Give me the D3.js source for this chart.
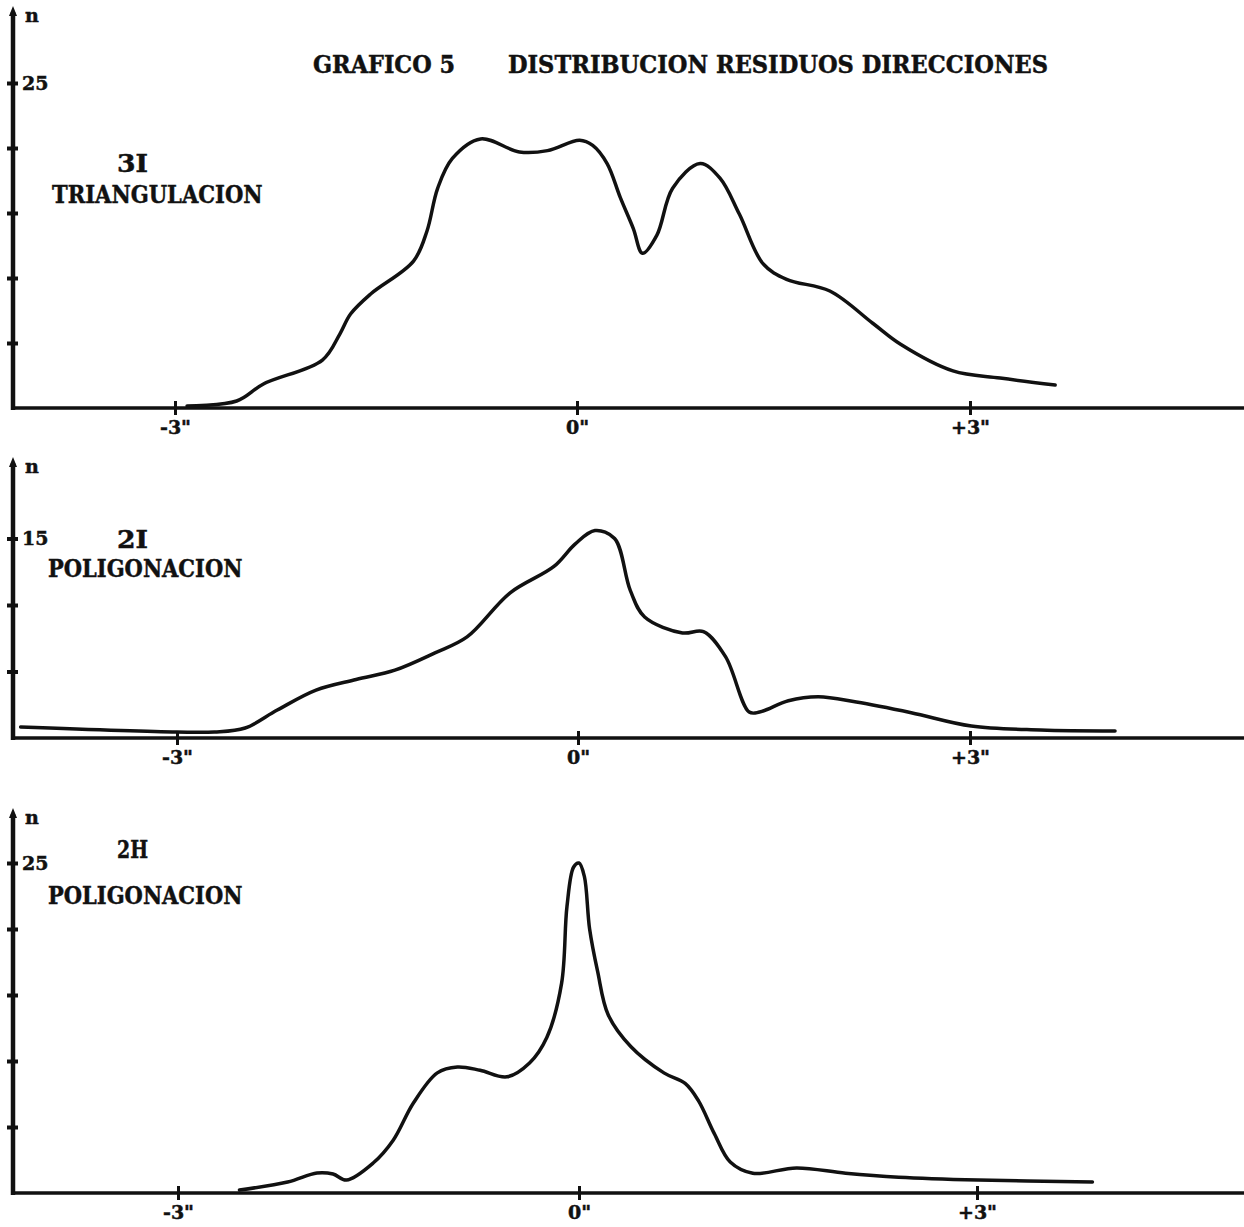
<!DOCTYPE html>
<html lang="es">
<head>
<meta charset="UTF-8">
<title>Grafico 5</title>
<script src="https://cdn.jsdelivr.net/npm/d3@7"></script>
<style>
    body { margin: 0; background: #fff; }
    text { font-family: "DejaVu Serif", "Liberation Serif", serif; font-weight: bold; fill: #111; stroke: #111; stroke-width: 0.5px; }
</style>
</head>
<body>
<script>

    // titulo y etiquetas
    var tituloA = "GRAFICO 5";
    var tituloB = "DISTRIBUCION RESIDUOS DIRECCIONES";
    var seriesNames = ["3I", "2I", "2H"];
    var methods = ["TRIANGULACION", "POLIGONACION", "POLIGONACION"];
    var xTicks = [-3, 0, 3];
    var xTickLabels = ['-3"', '0"', '+3"'];

    // 3I triangulacion: residuo (segundos) -> n
    var res3I = [-2.91, -2.54, -2.34, -1.90, -1.77, -1.69, -1.54, -1.22, -1.12, -1.04, -0.93, -0.72, -0.43, -0.22,
                 0.02, 0.12, 0.23, 0.33, 0.43, 0.50, 0.61, 0.73, 0.94, 1.09, 1.24, 1.42, 1.60, 1.93, 2.26, 2.47,
                 2.87, 3.23, 3.65];
    var n3I = [0.15, 0.54, 1.85, 3.69, 5.69, 7.23, 8.77, 11.3, 13.6, 16.9, 19.2, 20.7, 19.7, 19.8,
               20.6, 20.2, 18.8, 16.2, 13.8, 11.9, 13.3, 16.9, 18.8, 17.7, 14.9, 11.1, 9.9, 9.0, 6.5, 4.9,
               2.85, 2.3, 1.77];

    // 2I poligonacion
    var res2I = [-4.17, -3.0, -2.72, -2.49, -2.25, -1.96, -1.66, -1.37, -1.07, -0.83, -0.51, -0.18, -0.02, 0.13,
                 0.28, 0.40, 0.51, 0.80, 0.96, 1.13, 1.31, 1.39, 1.61, 1.84, 2.13, 2.55, 3.01, 3.54, 4.11];
    var n2I = [0.83, 0.45, 0.45, 0.75, 2.1, 3.6, 4.4, 5.1, 6.4, 7.6, 10.9, 12.9, 14.6, 15.6,
               15.0, 11.1, 9.1, 7.9, 8.0, 6.1, 1.95, 1.95, 2.8, 3.1, 2.7, 1.9, 0.9, 0.6, 0.53];

    // 2H poligonacion
    var res2H = [-2.54, -2.18, -1.96, -1.84, -1.74, -1.54, -1.39, -1.24, -1.06, -0.91, -0.74, -0.54, -0.37, -0.24,
                 -0.13, -0.09, -0.04, 0.0, 0.04, 0.08, 0.14, 0.22, 0.39, 0.64, 0.80, 0.90, 1.02, 1.14, 1.31,
                 1.64, 2.01, 2.41, 3.01, 3.87];
    var n2H = [0.23, 0.83, 1.52, 1.44, 0.98, 2.27, 4.0, 6.8, 9.1, 9.55, 9.3, 8.8, 9.85, 11.8,
               15.9, 21.7, 24.7, 25.0, 24.0, 20.0, 16.8, 13.5, 11.1, 9.1, 8.3, 7.0, 4.5, 2.35, 1.5,
               1.9, 1.5, 1.2, 0.98, 0.83];

    var yTicks1 = [5, 10, 15, 20, 25];
    var yTicks2 = [5, 10, 15];
    var yTicks3 = [5, 10, 15, 20, 25];

    // posicion de cada panel en la hoja
    var width = 1244;
    var height = 1227;
    var axisX = 13;
    var panels = [
        {res: res3I, n: n3I, ticks: yTicks1, base: 408, unit: 13.0, xr: [175, 577, 970], top: 6,   nameY: 172, methY: 203, methX: 52},
        {res: res2I, n: n2I, ticks: yTicks2, base: 738, unit: 13.3, xr: [177, 578, 970], top: 457, nameY: 548, methY: 577, methX: 48},
        {res: res2H, n: n2H, ticks: yTicks3, base: 1193, unit: 13.2, xr: [178, 579, 977], top: 808, nameY: 858, methY: 904, methX: 48}
    ];

    var svg = d3.select("body")
        .append("svg")
        .attr("width", width)
        .attr("height", height);

    function label(sel, txt, x, y, w, size) {
        var t = sel.append("text")
            .attr("x", x)
            .attr("y", y)
            .style("font-size", size + "px")
            .text(txt);
        if (w) t.attr("textLength", w).attr("lengthAdjust", "spacingAndGlyphs");
        return t;
    }

    label(svg, tituloA, 313, 73, 142, 25);
    label(svg, tituloB, 508, 73, 540, 25);

    panels.forEach(function (p, i) {
        var x = d3.scaleLinear().domain([-3, 0, 3]).range(p.xr);
        var y = d3.scaleLinear().domain([0, 25]).range([p.base, p.base - 25 * p.unit]);
        var g = svg.append("g");

        // linea base
        g.append("line")
            .attr("x1", axisX)
            .attr("x2", width)
            .attr("y1", p.base)
            .attr("y2", p.base)
            .attr("stroke", "#111")
            .attr("stroke-width", 3.5);

        // eje x
        var gx = g.append("g")
            .attr("transform", "translate(0," + p.base + ")")
            .call(d3.axisBottom(x)
                .tickValues(xTicks)
                .tickFormat(function (d, k) { return xTickLabels[k]; })
                .tickSize(7)
                .tickPadding(6));
        gx.select(".domain").remove();
        gx.selectAll(".tick line")
            .attr("y1", -7)
            .attr("stroke", "#111")
            .attr("stroke-width", 3);
        gx.selectAll(".tick text")
            .style("font-size", "19px");

        // eje y
        var gy = g.append("g")
            .attr("transform", "translate(" + axisX + ",0)")
            .call(d3.axisLeft(y)
                .tickValues(p.ticks)
                .tickFormat(function (d) { return d === d3.max(p.ticks) ? d : ""; })
                .tickSize(6));
        gy.select(".domain").remove();
        gy.selectAll(".tick line")
            .attr("x1", 5)
            .attr("stroke", "#111")
            .attr("stroke-width", 4);
        gy.selectAll(".tick text")
            .attr("x", 9)
            .attr("text-anchor", "start")
            .style("font-size", "19px");

        g.append("line")
            .attr("x1", axisX)
            .attr("x2", axisX)
            .attr("y1", p.base + 2)
            .attr("y2", p.top + 6)
            .attr("stroke", "#111")
            .attr("stroke-width", 4.5);
        g.append("path")
            .attr("d", "M" + (axisX - 4) + "," + (p.top + 10) + "L" + axisX + "," + p.top + "L" + (axisX + 4) + "," + (p.top + 10) + "Z")
            .attr("fill", "#111");
        label(g, "n", axisX + 12, p.top + 16, 0, 19);

        // nombres
        label(g, seriesNames[i], 117, p.nameY, 31, 25);
        label(g, methods[i], p.methX, p.methY, methods[i].length * 16.2, 25);

        // curva
        var pts = p.res.map(function (r, k) { return [r, p.n[k]]; });
        var line = d3.line()
            .x(function (d) { return x(d[0]); })
            .y(function (d) { return y(d[1]); })
            .curve(d3.curveCatmullRom.alpha(0.5));
        g.append("path")
            .datum(pts)
            .attr("d", line)
            .attr("fill", "none")
            .attr("stroke", "#111")
            .attr("stroke-width", 3.5)
            .attr("stroke-linejoin", "round")
            .attr("stroke-linecap", "round");
    });

</script>
</body>
</html>
